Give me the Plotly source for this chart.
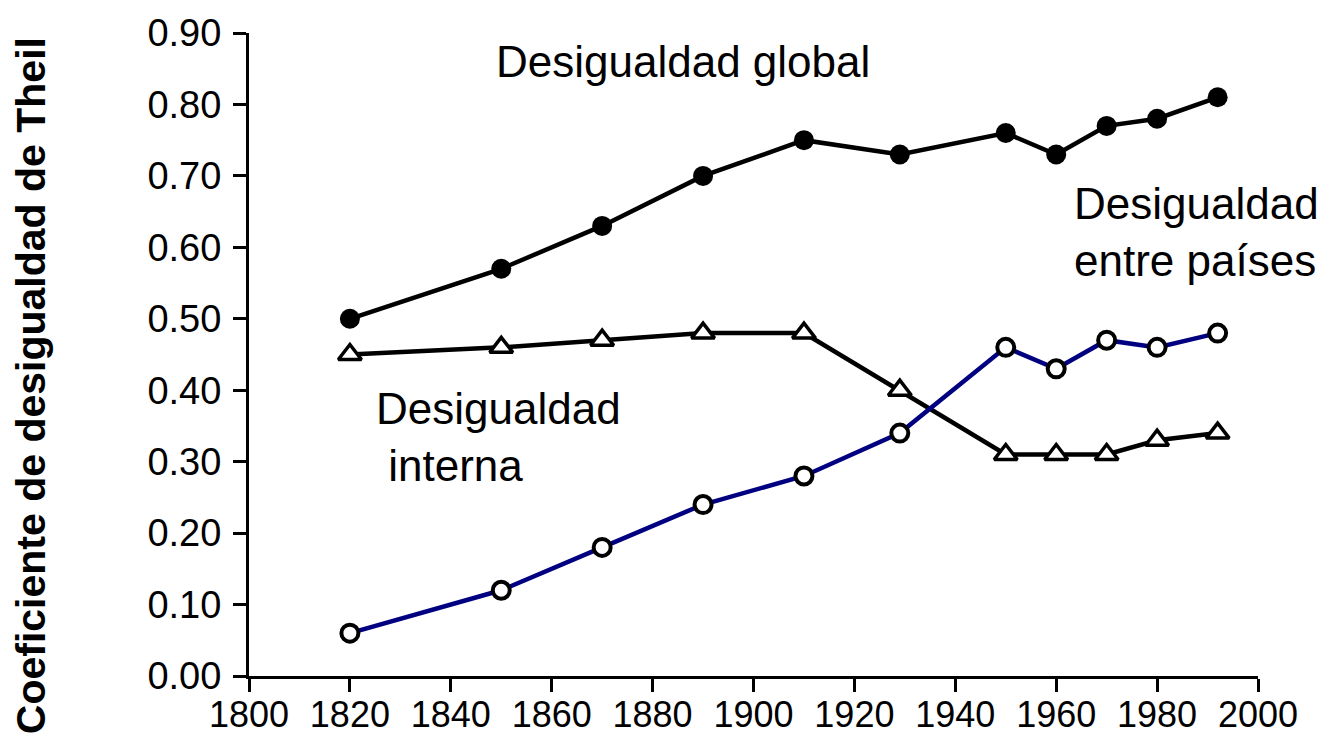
import plotly.graph_objects as go

# ---- data ----
years = [1820, 1850, 1870, 1890, 1910, 1929, 1950, 1960, 1970, 1980, 1992]
global_ineq = [0.50, 0.57, 0.63, 0.70, 0.75, 0.73, 0.76, 0.73, 0.77, 0.78, 0.81]
within_ineq = [0.45, 0.46, 0.47, 0.48, 0.48, 0.40, 0.31, 0.31, 0.31, 0.33, 0.34]
between_ineq = [0.06, 0.12, 0.18, 0.24, 0.28, 0.34, 0.46, 0.43, 0.47, 0.46, 0.48]

x_ticks = [1800, 1820, 1840, 1860, 1880, 1900, 1920, 1940, 1960, 1980, 2000]
y_ticks = [0.0, 0.1, 0.2, 0.3, 0.4, 0.5, 0.6, 0.7, 0.8, 0.9]
y_tick_labels = ["0.00", "0.10", "0.20", "0.30", "0.40", "0.50", "0.60", "0.70", "0.80", "0.90"]

y_title = "Coeficiente de desigualdad de Theil"
label_global = "Desigualdad global"
label_within = "Desigualdad<br>\u00a0interna"
label_between = "Desigualdad<br>entre países"

FONT = "Liberation Sans, Arial, sans-serif"

fig = go.Figure()

fig.add_trace(go.Scatter(
    x=years, y=within_ineq, mode="lines+markers",
    line=dict(color="black", width=4.5),
    marker=dict(symbol="triangle-up", size=20, color="white",
                line=dict(color="black", width=3.5)),
    showlegend=False, cliponaxis=False))

fig.add_trace(go.Scatter(
    x=years, y=between_ineq, mode="lines+markers",
    line=dict(color="#000080", width=4.5),
    marker=dict(symbol="circle", size=17, color="white",
                line=dict(color="black", width=4)),
    showlegend=False, cliponaxis=False))

fig.add_trace(go.Scatter(
    x=years, y=global_ineq, mode="lines+markers",
    line=dict(color="black", width=4.5),
    marker=dict(symbol="circle", size=20, color="black"),
    showlegend=False, cliponaxis=False))

axis_common = dict(
    showgrid=False, zeroline=False, showline=True,
    linecolor="black", linewidth=3,
    ticks="outside", ticklen=13, tickwidth=3, tickcolor="black",
)

fig.update_xaxes(range=[1800, 2000], tickvals=x_ticks,
                 ticktext=[str(v) for v in x_ticks],
                 tickfont=dict(family=FONT, size=36, color="black"),
                 ticklabelstandoff=-8, **axis_common)
fig.update_yaxes(range=[0, 0.9], tickvals=y_ticks, ticktext=y_tick_labels,
                 tickfont=dict(family=FONT, size=38, color="black"),
                 ticklabelstandoff=4, **axis_common)

W, H = 1327, 747
L, R, T, B = 249, 69, 28, 60
pw, ph = W - L - R, H - T - B

def px(xp):
    return (xp - L) / pw

def py(yp):
    return (H - B - yp) / ph

text_font = dict(family=FONT, size=44, color="black")

fig.add_annotation(text=label_global, xref="paper", yref="paper",
                   x=px(494), y=py(57), xanchor="left", yanchor="middle",
                   showarrow=False, font=text_font, align="left")
fig.add_annotation(text=label_within, xref="paper", yref="paper",
                   x=px(374), y=py(442), xanchor="left", yanchor="middle",
                   showarrow=False, font=text_font, align="left")
fig.add_annotation(text=label_between, xref="paper", yref="paper",
                   x=px(1072), y=py(232), xanchor="left", yanchor="middle",
                   showarrow=False, font=text_font, align="left")
fig.add_annotation(text="<b>" + y_title + "</b>", xref="paper", yref="paper",
                   x=px(31), y=py(390), xanchor="center", yanchor="middle",
                   textangle=-90, showarrow=False,
                   font=dict(family=FONT, size=41, color="black"))

fig.update_layout(
    width=W, height=H,
    margin=dict(l=L, r=R, t=T, b=B, pad=0),
    paper_bgcolor="white", plot_bgcolor="white",
    showlegend=False,
)

fig.write_html("out.html", config={"displayModeBar": False},
               post_script="document.body.style.margin='0';document.body.style.overflow='hidden';")
